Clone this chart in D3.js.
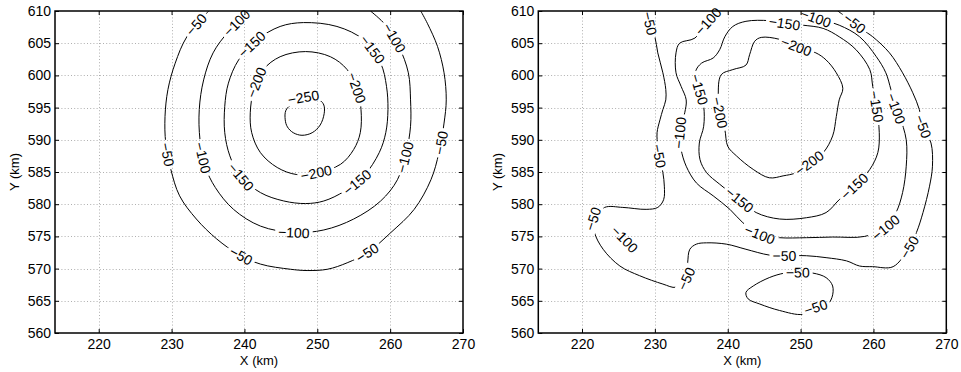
<!DOCTYPE html>
<html>
<head>
<meta charset="utf-8">
<script src="https://cdn.jsdelivr.net/npm/d3@7/dist/d3.min.js"></script>
<style>
  body { margin: 0; background: #fff; }
  svg text { font-family: "Liberation Sans", Arial, Helvetica, sans-serif; }
</style>
</head>
<body>
<svg id="chart" width="961" height="372"></svg>
<script>
// Axis settings (km)
const xDomain = [214, 270];
const yDomain = [560, 610];
const xTicks = [220, 230, 240, 250, 260, 270];
const yTicks = [560, 565, 570, 575, 580, 585, 590, 595, 600, 605, 610];
const xTitle = "X (km)";
const yTitle = "Y (km)";

// Left map: smooth anomaly, contour lines as [x, y] in km
const left250 = [[248.1,596.6],[249.4,596.4],[250.4,596.1],[250.9,595.4],[250.95,594.1],[250.4,592.3],[249.3,591.1],[247.9,590.7],[246.7,591.1],[245.9,592.0],[245.6,593.1],[245.7,594.6],[246.7,595.7]];
const left200 = [[248.4,603.7],[251.8,602.9],[254.1,600.9],[255.5,597.8],[256.0,594.7],[255.9,591.1],[255.0,588.5],[253.2,586.2],[250.0,584.9],[247.2,584.6],[244.5,585.7],[242.2,588.0],[241.0,591.1],[240.8,594.2],[241.3,597.8],[242.6,600.9],[244.9,602.9]];
const left150 = [[248.1,608.2],[252.7,607.6],[256.4,605.5],[258.7,601.9],[259.5,598.3],[259.7,594.7],[259.4,591.1],[258.5,588.0],[256.4,584.4],[253.7,582.0],[250.9,580.5],[248.4,580.1],[245.4,580.5],[242.2,581.8],[239.4,584.4],[238.0,587.5],[237.3,591.1],[237.3,595.2],[237.8,598.8],[239.2,602.4],[241.7,605.5],[244.9,607.6]];
const left100 = [[240.6,610.0],[237.8,606.8],[235.7,603.5],[234.4,599.3],[233.8,594.7],[233.9,590.0],[234.6,585.9],[236.0,582.6],[238.5,579.2],[242.2,576.6],[246.8,575.6],[250.9,576.0],[255.0,577.7],[258.7,580.5],[261.0,583.8],[262.2,588.0],[262.8,592.1],[262.8,596.2],[262.5,600.4],[261.2,604.5],[259.4,607.8],[257.3,610.0]];
const left50 = [[235.1,610.0],[232.1,606.0],[230.5,601.9],[229.5,597.8],[229.1,593.6],[229.2,589.5],[229.9,585.4],[231.1,581.3],[233.4,577.7],[236.2,574.6],[239.2,572.2],[242.2,570.7],[246.3,569.9],[248.6,569.7],[251.4,569.9],[254.1,570.9],[256.9,572.5],[260.1,575.6],[263.3,579.2],[265.6,583.8],[266.7,588.0],[267.4,592.6],[267.7,596.2],[267.4,600.4],[266.5,604.5],[265.1,608.1],[264.2,610.0]];

// Right map: observed anomaly
const right200 = [[249.4,604.5],[252.1,603.5],[253.5,602.4],[254.9,600.4],[255.8,598.0],[255.3,596.2],[254.9,593.6],[254.4,590.6],[253.1,588.0],[251.2,586.4],[249.4,584.9],[247.6,584.4],[245.7,584.1],[243.5,585.4],[241.2,587.5],[240.0,589.0],[239.6,591.6],[238.9,594.2],[238.7,596.7],[239.1,600.1],[240.7,600.9],[242.5,601.6],[243.0,603.2],[243.7,605.3],[244.6,605.9],[247.1,605.6]];
const right150 = [[247.8,608.1],[250.3,607.8],[253.1,607.3],[255.3,606.0],[257.6,604.0],[259.5,600.9],[259.9,598.3],[260.4,595.2],[260.8,591.1],[260.6,588.0],[259.5,585.4],[257.4,582.8],[255.3,580.7],[253.5,578.7],[250.8,577.9],[247.1,577.7],[243.9,578.7],[241.6,580.7],[238.9,583.1],[237.1,584.9],[236.2,586.9],[236.1,589.5],[236.7,592.1],[236.7,595.2],[236.1,597.8],[235.6,600.6],[236.4,601.9],[238.0,602.7],[238.9,604.0],[239.6,606.0],[240.7,607.6],[242.5,608.4],[245.7,608.5]];
const right100 = [[238.9,610.0],[237.3,608.4],[235.5,605.8],[233.4,605.0],[232.9,603.5],[232.9,600.4],[233.6,598.3],[234.3,596.2],[234.1,594.2],[233.4,591.1],[233.6,588.5],[234.3,585.9],[235.7,583.3],[238.0,581.3],[240.3,579.2],[242.1,577.1],[244.4,575.3],[247.1,574.8],[250.8,574.8],[254.4,574.9],[258.8,575.0],[261.7,576.4],[263.1,578.7],[264.0,581.8],[264.5,585.9],[264.5,590.0],[263.6,593.6],[263.1,594.9],[262.4,597.8],[261.7,600.4],[260.4,602.9],[258.1,606.0],[255.3,607.8],[252.1,608.9],[249.9,610.0]];
const right100b = [[224.7,575.9],[227.2,573.0]];
const right50 = [[229.2,610.0],[229.3,608.1],[230.0,606.0],[230.4,603.5],[231.1,600.4],[231.5,597.8],[231.5,596.2],[231.1,594.7],[230.7,593.1],[230.3,591.1],[230.4,589.0],[230.6,587.5],[231.1,584.9],[231.3,582.8],[231.2,580.7],[230.4,579.5],[228.8,579.2],[225.6,579.5],[223.1,579.5],[221.5,577.7],[221.7,575.6],[222.9,573.0],[225.2,570.4],[227.9,568.9],[231.1,567.6],[232.9,567.1],[234.3,568.4],[234.5,570.9],[234.8,573.0],[235.7,573.8],[237.1,574.0],[239.8,573.8],[242.5,573.0],[245.7,572.1],[247.8,572.0],[250.8,572.0],[253.5,571.7],[256.3,571.2],[258.1,570.4],[259.9,570.3],[262.7,570.3],[264.9,573.3],[265.9,575.6],[266.8,578.7],[267.7,582.8],[268.1,585.9],[267.9,589.5],[266.8,592.1],[266.3,594.7],[265.4,597.3],[264.0,600.4],[262.2,603.5],[259.9,606.0],[258.5,607.1],[257.4,608.1],[255.6,609.6],[255.1,610.0]];
const right50b = [[249.6,569.4],[251.7,569.3],[253.5,568.6],[254.4,567.3],[254.3,565.5],[253.5,564.2],[252.1,564.0],[250.3,562.9],[247.1,563.5],[244.4,564.5],[242.8,565.3],[242.5,566.3],[243.5,567.3],[245.7,568.6],[247.8,569.3]];

// Contour line lists per map: [key, level, closed, points]
const leftLines = [
  ["a250", -250, true, left250], ["a200", -200, true, left200], ["a150", -150, true, left150],
  ["a100", -100, false, left100], ["a50", -50, false, left50]
];
const rightLines = [
  ["b200", -200, true, right200], ["b150", -150, true, right150], ["b100", -100, false, right100],
  ["b100b", -100, false, right100b], ["b50", -50, false, right50], ["b50b", -50, true, right50b]
];

// Inline contour labels: [line key, x, y] (approximate, snapped onto the line)
const leftLabels = [
  ["a50",233.2,608.1],["a100",238.7,608.4],["a150",241.3,604.5],["a200",242.1,598.7],["a250",248.1,596.6],
  ["a200",255.0,597.9],["a150",256.9,603.5],["a100",260.5,605.8],["a50",229.5,587.7],["a100",234.4,587.2],
  ["a150",239.6,584.3],["a200",249.8,585.2],["a150",255.0,584.1],["a100",261.5,587.4],["a50",267.0,589.5],
  ["a100",246.8,575.3],["a50",239.4,571.7],["a50",256.4,573.3]
];
const rightLabels = [
  ["b50",229.3,608.1],["b100",237.3,608.4],["b150",247.8,608.1],["b100",252.1,608.9],["b50",257.4,608.1],
  ["b200",249.4,604.5],["b150",236.1,597.8],["b200",238.9,594.2],["b100",233.4,591.1],["b50",230.6,587.5],
  ["b150",260.4,595.2],["b100",263.1,594.9],["b50",266.8,592.1],["b200",251.2,586.4],["b150",257.4,582.8],
  ["b150",241.6,580.7],["b100",244.4,575.3],["b100",261.7,576.4],["b50",221.5,577.7],["b100b",225.9,574.6],
  ["b50",247.8,572.0],["b50",234.3,568.4],["b50",264.9,573.3],["b50b",249.6,569.4],["b50b",252.1,564.0]
];

const panels = [
  { left: 55, lines: leftLines, labels: leftLabels },
  { left: 538.3, lines: rightLines, labels: rightLabels }
];

const svg = d3.select("#chart");
const defs = svg.append("defs");
const plotW = 408, plotTop = 11, plotBottom = 333;
const fontSize = 14;
const titleSize = 13;

panels.forEach((P, i) => {
  const x = d3.scaleLinear().domain(xDomain).range([P.left, P.left + plotW]);
  const y = d3.scaleLinear().domain(yDomain).range([plotBottom, plotTop]);
  const g = svg.append("g");

  defs.append("clipPath").attr("id", "clip" + i)
    .append("rect").attr("x", P.left).attr("y", plotTop)
    .attr("width", plotW).attr("height", plotBottom - plotTop);

  // dotted grid
  const gridX = xTicks.filter(t => t > xDomain[0] && t < xDomain[1]);
  const gridY = yTicks.filter(t => t > yDomain[0] && t < yDomain[1]);
  const grid = g.append("g").attr("stroke", "#9a9a9a").attr("stroke-width", 0.8)
    .attr("stroke-dasharray", "1,2.2").attr("fill", "none");
  grid.selectAll(".gx").data(gridX).join("line").attr("class", "gx")
    .attr("x1", d => Math.round(x(d)) + 0.5).attr("x2", d => Math.round(x(d)) + 0.5)
    .attr("y1", plotTop).attr("y2", plotBottom);
  grid.selectAll(".gy").data(gridY).join("line").attr("class", "gy")
    .attr("y1", d => Math.round(y(d)) + 0.5).attr("y2", d => Math.round(y(d)) + 0.5)
    .attr("x1", P.left).attr("x2", P.left + plotW);

  // contour lines, broken where labels sit
  const mask = defs.append("mask").attr("id", "mask" + i)
    .attr("maskUnits", "userSpaceOnUse")
    .attr("x", 0).attr("y", 0).attr("width", 961).attr("height", 372);
  mask.append("rect").attr("x", 0).attr("y", 0).attr("width", 961).attr("height", 372).attr("fill", "#fff");

  const lineGroup = g.append("g").attr("clip-path", `url(#clip${i})`)
    .append("g").attr("mask", `url(#mask${i})`);
  const paths = {};
  P.lines.forEach(([key, level, closed, pts]) => {
    const gen = d3.line().x(d => x(d[0])).y(d => y(d[1]))
      .curve(closed ? d3.curveCatmullRomClosed.alpha(0.5) : d3.curveCatmullRom.alpha(0.5));
    const p = lineGroup.append("path").datum(pts).attr("d", gen)
      .attr("fill", "none").attr("stroke", "#000").attr("stroke-width", 1);
    paths[key] = { node: p.node(), level };
  });

  // labels along the lines
  const labelGroup = g.append("g");
  P.labels.forEach(([key, lx, ly]) => {
    const info = paths[key];
    const node = info.node;
    const total = node.getTotalLength();
    const tx = x(lx), ty = y(ly);
    let best = 0, bestD = Infinity;
    for (let s = 0; s <= total; s += 0.5) {
      const q = node.getPointAtLength(s);
      const dd = (q.x - tx) ** 2 + (q.y - ty) ** 2;
      if (dd < bestD) { bestD = dd; best = s; }
    }
    const c = node.getPointAtLength(best);
    const a = node.getPointAtLength(Math.max(0, best - 9));
    const b = node.getPointAtLength(Math.min(total, best + 9));
    let ang = Math.atan2(b.y - a.y, b.x - a.x) * 180 / Math.PI;
    if (ang > 90) ang -= 180;
    if (ang < -90) ang += 180;
    const tr = `translate(${c.x},${c.y}) rotate(${ang})`;
    const t = labelGroup.append("text").attr("transform", tr)
      .attr("text-anchor", "middle").attr("dy", "0.36em")
      .attr("font-size", fontSize).attr("fill", "#000")
      .text("\u2212" + Math.abs(info.level));
    const w = t.node().getComputedTextLength();
    mask.append("rect").attr("transform", tr)
      .attr("x", -w / 2 - 3).attr("y", -6.5).attr("width", w + 6).attr("height", 13)
      .attr("fill", "#000");
  });

  // axes with inward ticks on all four sides
  const styleAxis = sel => {
    sel.select(".domain").remove();
    sel.selectAll(".tick line").attr("stroke", "#000").attr("stroke-width", 1);
    sel.selectAll(".tick text").attr("font-size", fontSize).attr("fill", "#000")
      .attr("font-family", '"Liberation Sans", Arial, Helvetica, sans-serif');
  };
  g.append("g").attr("transform", `translate(0,${plotBottom})`)
    .call(d3.axisBottom(x).tickValues(xTicks).tickSize(-4).tickPadding(6).tickFormat(d3.format("d")))
    .call(styleAxis);
  g.append("g").attr("transform", `translate(0,${plotTop})`)
    .call(d3.axisTop(x).tickValues(xTicks).tickSize(-4).tickFormat(""))
    .call(styleAxis);
  g.append("g").attr("transform", `translate(${P.left},0)`)
    .call(d3.axisLeft(y).tickValues(yTicks).tickSize(-4).tickPadding(4).tickFormat(d3.format("d")))
    .call(styleAxis);
  g.append("g").attr("transform", `translate(${P.left + plotW},0)`)
    .call(d3.axisRight(y).tickValues(yTicks).tickSize(-4).tickFormat(""))
    .call(styleAxis);

  // frame
  g.append("rect").attr("x", P.left).attr("y", plotTop)
    .attr("width", plotW).attr("height", plotBottom - plotTop)
    .attr("fill", "none").attr("stroke", "#000").attr("stroke-width", 1.5);

  // axis titles
  g.append("text").attr("x", P.left + plotW / 2).attr("y", 365)
    .attr("text-anchor", "middle").attr("font-size", titleSize).text(xTitle);
  g.append("text").attr("transform", `translate(${P.left - 36},${(plotTop + plotBottom) / 2}) rotate(-90)`)
    .attr("text-anchor", "middle").attr("font-size", titleSize).text(yTitle);
});
</script>
</body>
</html>
